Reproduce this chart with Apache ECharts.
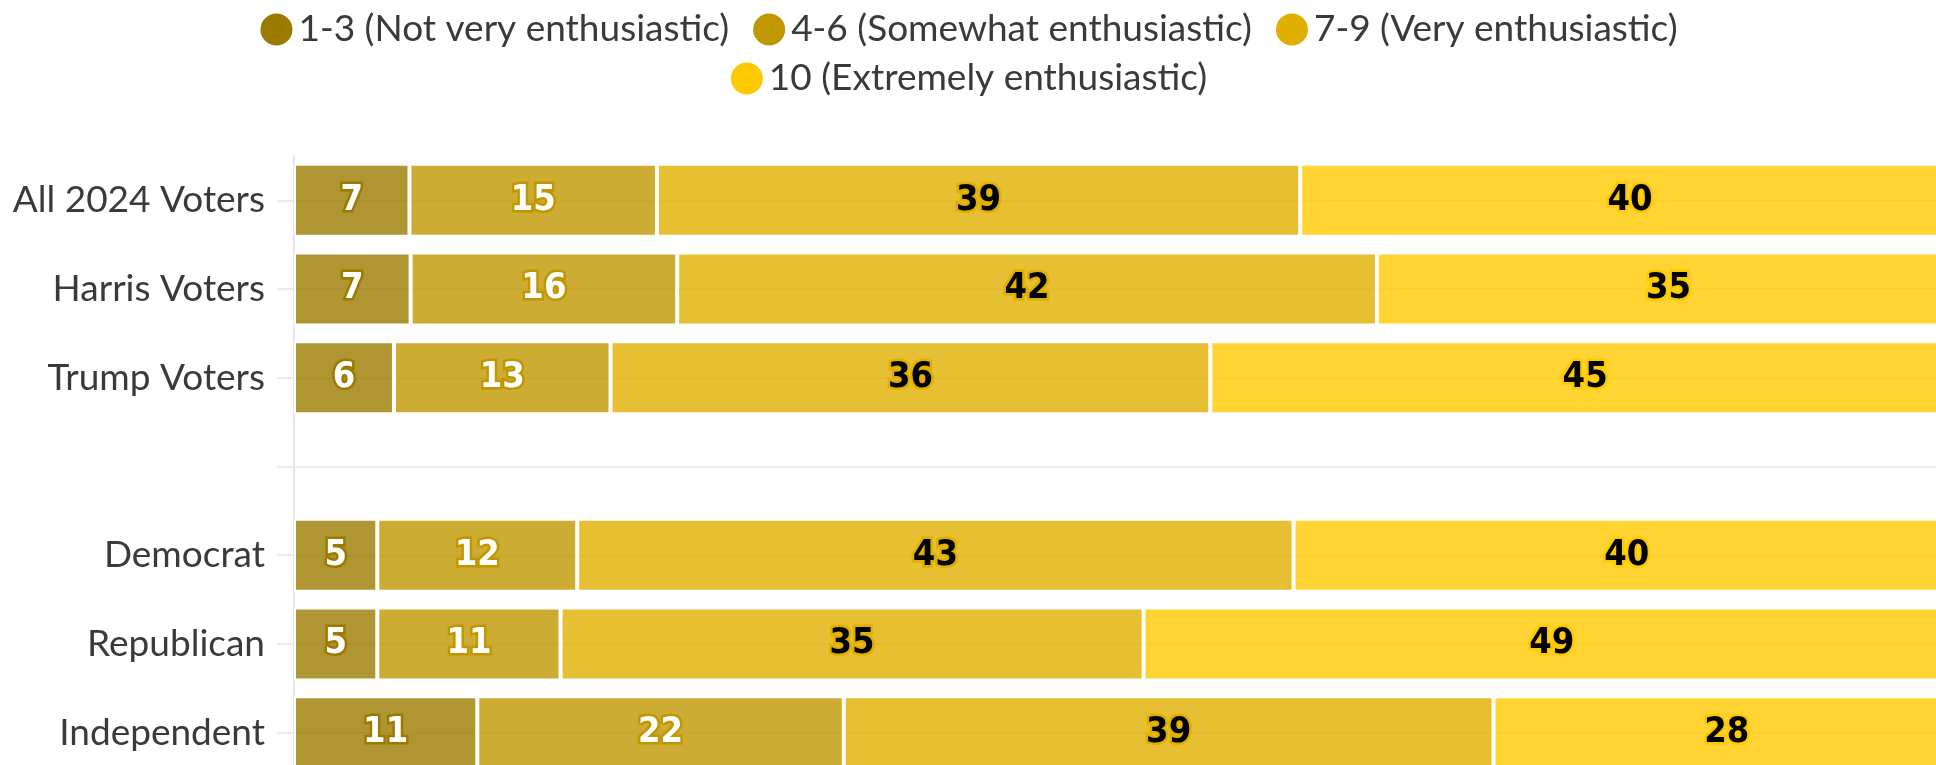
<!DOCTYPE html>
<html>
<head>
<meta charset="utf-8">
<script src="https://cdn.jsdelivr.net/npm/echarts@6/dist/echarts.min.js"></script>
<style>
html,body{margin:0;padding:0;background:#fff;}
#chart{width:1936px;height:765px;}
</style>
</head>
<body>
<div id="chart"></div>
<script>
const categories = ['All 2024 Voters', 'Harris Voters', 'Trump Voters', '', 'Democrat', 'Republican', 'Independent'];
const seriesNames = ['1-3 (Not very enthusiastic)', '4-6 (Somewhat enthusiastic)', '7-9 (Very enthusiastic)', '10 (Extremely enthusiastic)'];
const notVery = [7, 7, 6, null, 5, 5, 11];
const somewhat = [15, 16, 13, null, 12, 11, 22];
const very = [39, 42, 36, null, 43, 35, 39];
const extremely = [40, 35, 45, null, 40, 49, 28];

const rawSeries = [notVery, somewhat, very, extremely];
const solidColors = ['#9c7a00', '#c09700', '#e0af00', '#ffc900'];
const fillColors = ['rgba(156,122,0,0.8)', 'rgba(192,151,0,0.8)', 'rgba(224,175,0,0.8)', 'rgba(255,201,0,0.8)'];
const labelColors = ['#ffffff', '#ffffff', '#000000', '#000000'];

const totals = categories.map((c, i) => rawSeries.reduce((s, arr) => s + (arr[i] == null ? 0 : arr[i]), 0));

const FONT = 'Lato, "Noto Sans", sans-serif';
const LABEL_FONT = '"Liberation Sans Narrow", "DejaVu Sans Condensed", "Arial Narrow", sans-serif';

const series = rawSeries.map((arr, si) => ({
  name: seriesNames[si],
  type: 'bar',
  stack: 'total',
  xAxisIndex: 0,
  yAxisIndex: 0,
  barWidth: 73,
  data: arr.map((v, i) => v == null ? null : v / totals[i] * 100),
  itemStyle: { color: fillColors[si], borderColor: '#ffffff', borderWidth: 2 },
  label: {
    show: true,
    position: 'inside',
    formatter: p => String(arr[p.dataIndex]),
    fontFamily: LABEL_FONT,
    fontWeight: 'bold',
    fontSize: 36,
    color: labelColors[si],
    textBorderColor: solidColors[si],
    textBorderWidth: 5
  },
  emphasis: { disabled: true }
}));

const legendText = { fontFamily: FONT, fontSize: 37, color: '#3a3a3a' };

const chart = echarts.init(document.getElementById('chart'), null, { renderer: 'canvas' });
chart.setOption({
  animation: false,
  backgroundColor: '#ffffff',
  legend: [
    {
      data: seriesNames.slice(0, 3).map((n, i) => ({ name: n, itemStyle: { color: solidColors[i], opacity: 1 } })),
      top: 6, left: 'center', icon: 'circle', itemWidth: 34, itemHeight: 34, itemGap: 22,
      textStyle: legendText
    },
    {
      data: seriesNames.slice(3).map(n => ({ name: n, itemStyle: { color: solidColors[3], opacity: 1 } })),
      top: 55, left: 'center', icon: 'circle', itemWidth: 34, itemHeight: 34, itemGap: 22,
      textStyle: legendText
    }
  ],
  grid: [
    { left: 294, width: 1666, top: 156, height: 621, containLabel: false, outerBoundsMode: 'none' },
    { left: 294, width: 1666, top: 200.4, height: 532.5, containLabel: false, outerBoundsMode: 'none' }
  ],
  xAxis: [
    { type: 'value', gridIndex: 0, min: 0, max: 100, show: false },
    { type: 'value', gridIndex: 1, min: 0, max: 100, show: false }
  ],
  yAxis: [
    {
      type: 'category', gridIndex: 0, data: categories, inverse: true,
      axisLine: { show: true, lineStyle: { color: '#e6e6e6', width: 2 } },
      axisTick: { show: true, alignWithLabel: true, length: 17, lineStyle: { color: '#ebebeb', width: 2 } },
      axisLabel: { margin: 29, fontFamily: FONT, fontSize: 37, color: '#3a3a3a' },
      splitLine: { show: false }
    },
    {
      type: 'category', gridIndex: 1, data: categories, inverse: true, boundaryGap: false,
      axisLine: { show: false }, axisTick: { show: false }, axisLabel: { show: false },
      splitLine: { show: true, lineStyle: { color: '#ebebeb', width: 2 } }
    }
  ],
  series: series
});
</script>
</body>
</html>
